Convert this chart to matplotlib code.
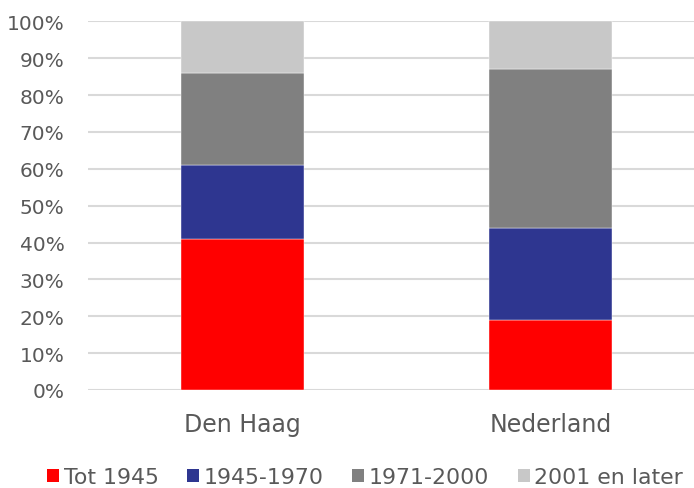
import matplotlib
matplotlib.use("Agg")
import matplotlib.pyplot as plt
from matplotlib.ticker import FuncFormatter, MultipleLocator
from matplotlib.patches import Patch

categories = ["Den Haag", "Nederland"]
series_names = ["Tot 1945", "1945-1970", "1971-2000", "2001 en later"]
tot1945 = [41, 19]
p1945_1970 = [20, 25]
p1971_2000 = [25, 43]
p2001 = [14, 13]
colors = ["#FF0000", "#2E3690", "#808080", "#C8C8C8"]

plt.rcParams['font.family'] = ['DejaVu Sans']
text_color = "#595959"

fig = plt.figure(figsize=(6.94, 4.89), dpi=100)
ax = fig.add_axes([88/694, 98/489, 606/694, (391-22.4)/489])

x = list(range(len(categories)))
bottom = [0, 0]
for vals, name, c in zip([tot1945, p1945_1970, p1971_2000, p2001], series_names, colors):
    ax.bar(x, vals, width=0.4, bottom=bottom, color=c, label=name, zorder=3,
           edgecolor="white", linewidth=0.3)
    bottom = [b + v for b, v in zip(bottom, vals)]

ax.set_xlim(-0.5016, 1.4659)
ax.set_ylim(0, 100)
ax.yaxis.set_major_locator(MultipleLocator(10))
ax.yaxis.set_major_formatter(FuncFormatter(lambda v, p: f"{int(round(v))}%"))
ax.set_xticks(x)
ax.set_xticklabels(categories)
ax.tick_params(axis='both', length=0, colors=text_color)
ax.tick_params(axis='y', pad=17, labelsize=14.5)
ax.tick_params(axis='x', pad=16, labelsize=17)
ax.grid(axis='y', color="#D9D9D9", linewidth=1.5, zorder=0)
for s in ax.spines.values():
    s.set_visible(False)

handles = [Patch(facecolor=c, edgecolor='none', label=n) for c, n in zip(colors, series_names)]
leg = fig.legend(handles=handles, loc='center', bbox_to_anchor=(365/694, 1 - 478/489),
                 ncol=4, frameon=False, fontsize=15.8, handlelength=0.55, handleheight=0.55,
                 handletextpad=0.2, columnspacing=1.3)
for t in leg.get_texts():
    t.set_color(text_color)

fig.savefig("out.png", dpi=100)
